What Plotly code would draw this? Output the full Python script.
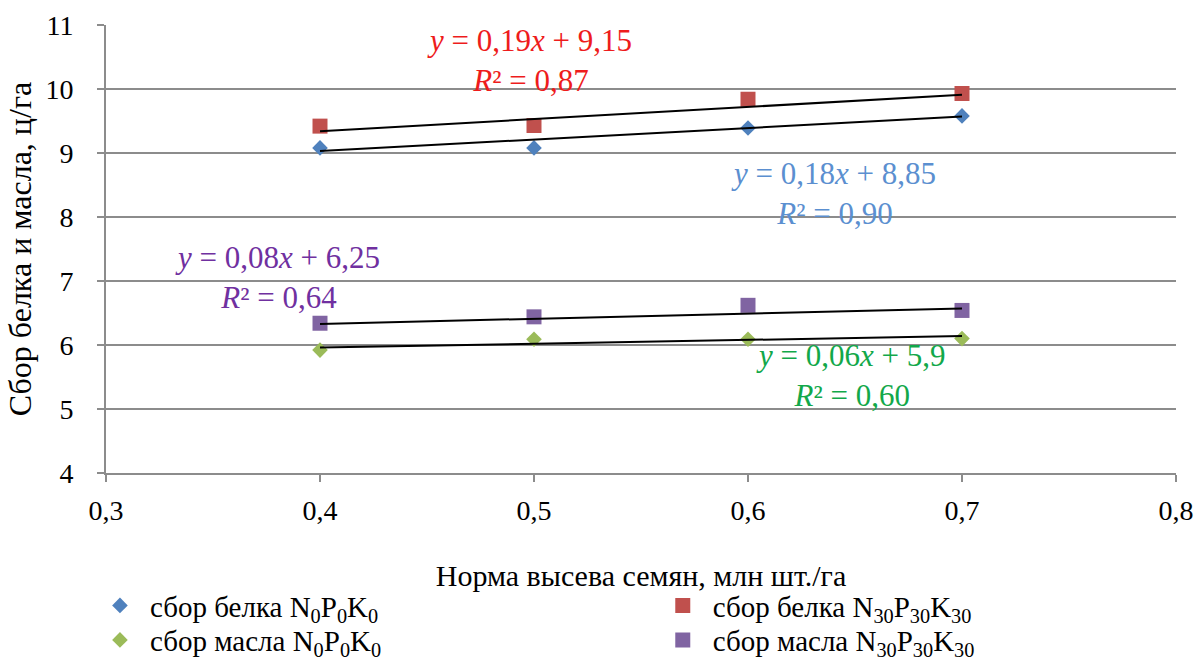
import plotly.graph_objects as go

x_vals = [0.4, 0.5, 0.6, 0.7]
belok_n0 = [9.08, 9.08, 9.39, 9.58]
belok_n30 = [9.42, 9.43, 9.84, 9.93]
maslo_n0 = [5.92, 6.09, 6.09, 6.10]
maslo_n30 = [6.34, 6.44, 6.62, 6.54]

# trend-line coefficients (y = a*i + b, i = 1..4) as printed on the chart
trend_a = {"belok_n0": 0.18, "belok_n30": 0.19, "maslo_n0": 0.06, "maslo_n30": 0.08}
trend_b = {"belok_n0": 8.85, "belok_n30": 9.15, "maslo_n0": 5.9, "maslo_n30": 6.25}

names = {
    "belok_n0": "сбор белка N<sub>0</sub>P<sub>0</sub>K<sub>0</sub>",
    "belok_n30": "сбор белка N<sub>30</sub>P<sub>30</sub>K<sub>30</sub>",
    "maslo_n0": "сбор масла N<sub>0</sub>P<sub>0</sub>K<sub>0</sub>",
    "maslo_n30": "сбор масла N<sub>30</sub>P<sub>30</sub>K<sub>30</sub>",
}

FONT = "Liberation Serif"
fig = go.Figure()

series = [
    ("belok_n0", belok_n0, "#4F81BD", "diamond", 12, "legend"),
    ("belok_n30", belok_n30, "#C0504D", "square", 15, "legend2"),
    ("maslo_n0", maslo_n0, "#9BBB59", "diamond", 12, "legend3"),
    ("maslo_n30", maslo_n30, "#8064A2", "square", 15, "legend4"),
]

for key, vals, col, sym, sz, lg in series:
    fig.add_trace(go.Scatter(x=x_vals, y=vals, mode="markers", name=names[key], legend=lg,
                             marker=dict(symbol=sym, size=sz, color=col,
                                         line=dict(width=0))))

for key, vals, col, sym, sz, lg in series:
    idx = list(range(1, len(x_vals) + 1))
    ty = [trend_a[key] * i + trend_b[key] for i in idx]
    fig.add_trace(go.Scatter(x=x_vals, y=ty, mode="lines",
                             line=dict(color="black", width=2),
                             showlegend=False, hoverinfo="skip"))

ann = [
    (0.498, 10.45, "<i>y</i> = 0,19<i>x</i> + 9,15<br><i>R</i>² = 0,87", "#EE1C1C"),
    (0.640, 8.37, "<i>y</i> = 0,18<i>x</i> + 8,85<br><i>R</i>² = 0,90", "#5B8FD0"),
    (0.380, 7.05, "<i>y</i> = 0,08<i>x</i> + 6,25<br><i>R</i>² = 0,64", "#7030A0"),
    (0.648, 5.53, "<i>y</i> = 0,06<i>x</i> + 5,9<br><i>R</i>² = 0,60", "#12A84A"),
]
for ax, ay, txt, col in ann:
    fig.add_annotation(x=ax, y=ay, xref="x", yref="y", text=txt, showarrow=False,
                       font=dict(family=FONT, size=31, color=col), align="center")

axis_col = "#8C8C8C"
leg_common = dict(orientation="v", yanchor="top", xanchor="left",
                  font=dict(family=FONT, size=29), itemwidth=50, tracegroupgap=0,
                  bgcolor="rgba(0,0,0,0)")
row1, row2 = -0.239, -0.316
col1, col2 = -0.015, 0.511
fig.update_layout(
    width=1197, height=659,
    margin=dict(l=106, r=21, t=25, b=186, autoexpand=False),
    paper_bgcolor="white", plot_bgcolor="white",
    separators=", ",
    font=dict(family=FONT, size=26, color="black"),
    xaxis=dict(range=[0.3, 0.8], dtick=0.1, tick0=0.3, tickformat=".1f",
               showgrid=False, zeroline=False, showline=True, linecolor=axis_col, linewidth=2,
               ticks="outside", ticklen=7, tickcolor=axis_col, tickwidth=2,
               tickfont=dict(family=FONT, size=28), ticklabelstandoff=4,
               title=dict(text="Норма высева семян, млн шт./га", font=dict(family=FONT, size=30),
                          standoff=40)),
    yaxis=dict(range=[4, 11], dtick=1, showgrid=True, gridcolor=axis_col, gridwidth=2,
               zeroline=False, showline=True, linecolor=axis_col, linewidth=2,
               ticks="outside", ticklen=7, tickcolor=axis_col, tickwidth=2,
               tickfont=dict(family=FONT, size=28), ticklabelstandoff=18,
               title=dict(text="Сбор белка и масла, ц/га", font=dict(family=FONT, size=32),
                          standoff=4)),
    legend=dict(x=col1, y=row1, **leg_common),
    legend2=dict(x=col2, y=row1, **leg_common),
    legend3=dict(x=col1, y=row2, **leg_common),
    legend4=dict(x=col2, y=row2, **leg_common),
)

fig.write_html("out.html", config={"displayModeBar": False},
               post_script="document.body.style.margin='0';document.body.style.overflow='hidden';")
